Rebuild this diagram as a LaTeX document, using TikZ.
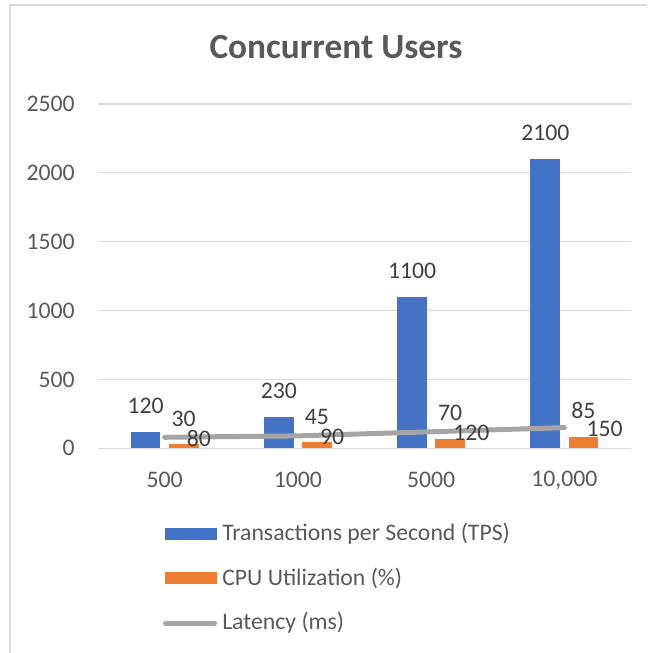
\documentclass[tikz,border=0pt]{standalone}
\usepackage{fontspec}
\setmainfont{Carlito}

\definecolor{tpsblue}{HTML}{4472C4}
\definecolor{cpuorange}{HTML}{ED7D31}
\definecolor{latgray}{HTML}{A5A5A5}
\definecolor{gridgray}{HTML}{D9D9D9}
\definecolor{textgray}{HTML}{595959}
\definecolor{labelgray}{HTML}{404040}

\tikzset{
  charttitle/.style={font=\fontsize{26.5}{30}\selectfont\bfseries, text=textgray, inner sep=0pt},
  axislabel/.style={text=textgray, inner sep=0pt},
  datalabel/.style={text=labelgray, inner sep=0pt},
  gridline/.style={gridgray, line width=1.2pt},
  latline/.style={latgray, line width=3.75pt, line cap=round, line join=round}
}

\begin{document}
\begin{tikzpicture}[x=0.75pt, y=-0.75pt, font=\fontsize{17.8}{21}\selectfont]
\useasboundingbox (0,0) rectangle (647,653);

% chart frame
\draw [gridgray, line width=1.5pt] (10,653) -- (10,5) -- (647,5);

\node [charttitle, anchor=base] (title) at (336,58.3) {Concurrent Users};

% plot area, y in data units
\begin{scope}[shift={(0,448.3)}, y=0.10338pt]
\foreach \v in {0,500,...,2500} {
  \draw [gridline] (98,\v) -- (631,\v);
  \node [axislabel, anchor=east] (ytick\v) at (75,\v) {\v};
}

\foreach \i/\tps/\cpu/\lat/\cat in {0/120/30/80/500, 1/230/45/90/1000, 2/1100/70/120/5000, 3/2100/85/150/{10,000}} {
  \pgfmathsetmacro\cx{164.6+133.25*\i}
  \fill [tpsblue] (\cx-33.9,0) rectangle (\cx-4.2,\tps);
  \fill [cpuorange] (\cx+4.2,0) rectangle (\cx+33.9,\cpu);
  \coordinate (lat\i) at (\cx,\lat);
  \node [axislabel] (cat\i) at (\cx,-230) {\cat};
}

\draw [latline] (lat0) -- (lat1) -- (lat2) -- (lat3);

% value labels
\foreach \i/\tps/\cpu/\lat in {0/120/30/80, 1/230/45/90, 2/1100/70/120, 3/2100/85/150} {
  \pgfmathsetmacro\cx{164.6+133.25*\i}
  \node [datalabel, anchor=base, yshift=13.5pt] (tpsval\i) at (\cx-19,\tps) {\tps};
  \node [datalabel, anchor=base, yshift=13.5pt] (cpuval\i) at (\cx+19,\cpu) {\cpu};
  \node [datalabel, anchor=west, xshift=16.5pt, yshift=-1pt] (latval\i) at (lat\i) {\lat};
}
\end{scope}

% legend
\fill [tpsblue] (165,528) rectangle (217,540);
\node [axislabel, anchor=west] (legtps) at (222,534) {Transactions per Second (TPS)};
\fill [cpuorange] (165,572) rectangle (217,584);
\node [axislabel, anchor=west] (legcpu) at (222,578) {CPU Utilization (\%)};
\coordinate (legla) at (165.5,623.3);
\coordinate (leglb) at (214.5,623.3);
\draw [latline] (legla) -- (leglb);
\node [axislabel, anchor=west] (leglat) at (222,623) {Latency (ms)};
\end{tikzpicture}
\end{document}
